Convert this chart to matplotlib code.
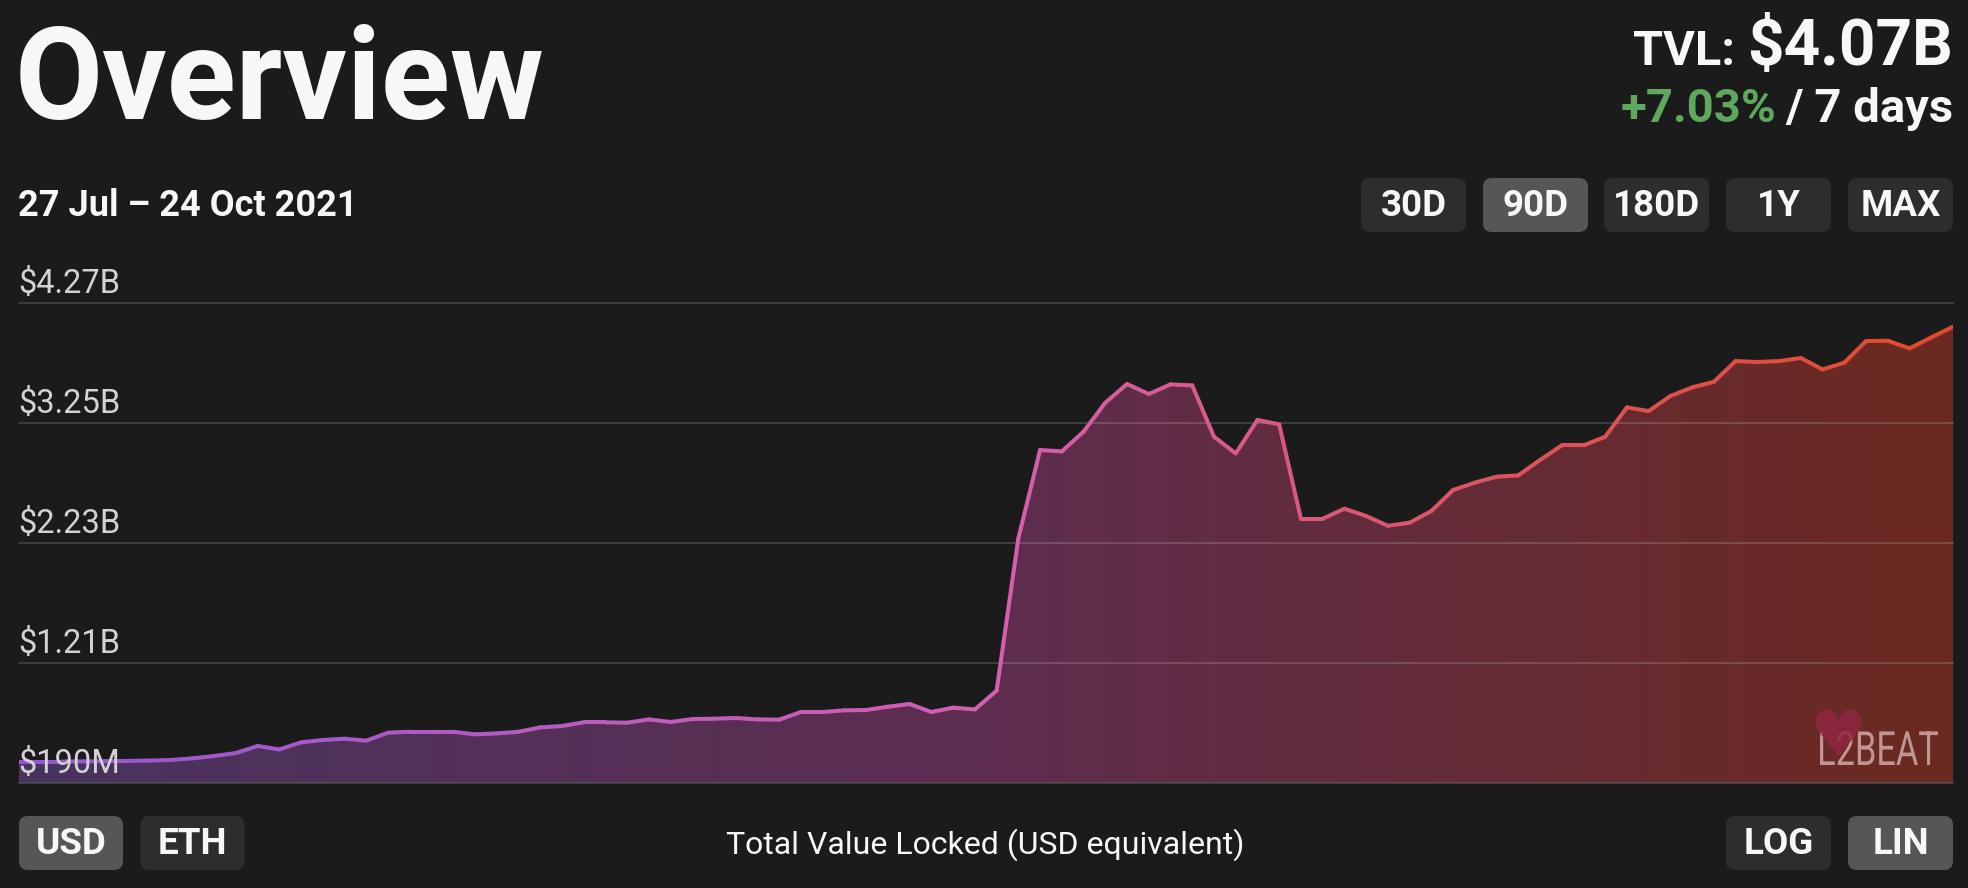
import numpy as np
import matplotlib
matplotlib.use('Agg')
import matplotlib.pyplot as plt
from matplotlib.collections import LineCollection
from matplotlib.colors import LinearSegmentedColormap
from matplotlib.patches import FancyBboxPatch, Polygon, PathPatch
from matplotlib.textpath import TextPath
from matplotlib.font_manager import FontProperties
from matplotlib.transforms import Affine2D

# ---------------- data ----------------
days = list(range(90))  # 27 Jul .. 24 Oct 2021, daily
tvl_b = [0.370, 0.370, 0.370, 0.371, 0.373, 0.375, 0.378, 0.383, 0.397, 0.417,
         0.442, 0.502, 0.473, 0.533, 0.553, 0.564, 0.547, 0.615, 0.623, 0.623,
         0.623, 0.601, 0.609, 0.623, 0.660, 0.672, 0.703, 0.703, 0.700, 0.728,
         0.706, 0.731, 0.734, 0.740, 0.728, 0.726, 0.791, 0.791, 0.805, 0.808,
         0.836, 0.859, 0.791, 0.828, 0.813, 0.972, 2.267, 3.018, 3.006, 3.174,
         3.420, 3.579, 3.494, 3.576, 3.567, 3.131, 2.989, 3.273, 3.236, 2.434,
         2.434, 2.519, 2.457, 2.374, 2.400, 2.499, 2.678, 2.740, 2.791, 2.802,
         2.933, 3.057, 3.057, 3.131, 3.380, 3.349, 3.477, 3.550, 3.598, 3.774,
         3.766, 3.774, 3.800, 3.703, 3.760, 3.944, 3.947, 3.882, 3.975, 4.066]
y_ticks = [0.19, 1.21, 2.23, 3.25, 4.27]
y_tick_labels = ['$190M', '$1.21B', '$2.23B', '$3.25B', '$4.27B']
range_buttons = ['30D', '90D', '180D', '1Y', 'MAX']
active_range = '90D'
currency_buttons = ['USD', 'ETH']
scale_buttons = ['LOG', 'LIN']
title = 'Overview'
date_range = '27 Jul \u2013 24 Oct 2021'
tvl_value = '$4.07B'
tvl_change = '+7.03%'

# ---------------- figure ----------------
W, H = 1968, 888
BG = '#1b1b1b'
plt.rcParams['font.family'] = ['Roboto', 'DejaVu Sans']
fig = plt.figure(figsize=(W / 100, H / 100), dpi=100, facecolor=BG)

# overlay axes in pixel coordinates (y downwards)
ov = fig.add_axes([0, 0, 1, 1], zorder=0)
ov.set_xlim(0, W)
ov.set_ylim(H, 0)
ov.axis('off')
ov.set_facecolor('none')

# chart axes
ax_left, ax_right, ax_top, ax_bottom = 18.5, 1953, 302.7, 782.7
ax = fig.add_axes([ax_left / W, 1 - ax_bottom / H, (ax_right - ax_left) / W,
                   (ax_bottom - ax_top) / H], zorder=2)
ax.set_facecolor('none')
for s in ax.spines.values():
    s.set_visible(False)
ax.set_xticks([])
ax.set_yticks([])

fill_cmap = LinearSegmentedColormap.from_list(
    'fill', [(0, '#48345f'), (0.5, '#5e2d4f'), (1, '#6b2a20')])
line_cmap = LinearSegmentedColormap.from_list(
    'line', [(0, '#9456d2'), (0.5, '#d45fb0'), (0.75, '#db5563'), (1, '#e4492c')])

xmax = days[-1]
grad = np.linspace(0, 1, 512).reshape(1, -1)
im = ax.imshow(grad, cmap=fill_cmap, extent=[0, xmax, y_ticks[0], y_ticks[-1]],
               aspect='auto', origin='lower', zorder=1, interpolation='bilinear')
verts = [(days[0], y_ticks[0])] + list(zip(days, tvl_b)) + [(days[-1], y_ticks[0])]
clip = Polygon(verts, closed=True, transform=ax.transData, facecolor='none', edgecolor='none')
ax.add_patch(clip)
im.set_clip_path(clip)

pts = np.column_stack([days, tvl_b])
segs = np.stack([pts[:-1], pts[1:]], axis=1)
mids = (np.array(days[:-1]) + np.array(days[1:])) / 2 / xmax
lc = LineCollection(segs, colors=line_cmap(mids), linewidths=2.9, zorder=4,
                    capstyle='round', joinstyle='round')
ax.add_collection(lc)

ax.set_xlim(0, xmax)
ax.set_ylim(y_ticks[0], y_ticks[-1])

for v, lab in zip(y_ticks, y_tick_labels):
    ax.axhline(v, color='white', alpha=0.2, lw=1.1, zorder=3, clip_on=False)
    ax.annotate(lab, xy=(0, v), xycoords=('axes fraction', 'data'),
                xytext=(0.0, 7.3), textcoords='offset points', ha='left', va='baseline',
                fontsize=23.5, color='#d3d3d3', zorder=6, annotation_clip=False)

# ---------------- header texts ----------------
WHITE = '#f7f7f7'
ov.text(15, 119, title, fontsize=92, fontweight='bold', color=WHITE, ha='left', va='baseline')
ov.text(18, 216, date_range, fontsize=26, fontweight='bold', color=WHITE, ha='left', va='baseline')

renderer = fig.canvas.get_renderer()
t_big = ov.text(1953, 65, tvl_value, fontsize=46, fontweight='bold', color=WHITE,
                ha='right', va='baseline')
bb = t_big.get_window_extent(renderer)
ov.text(bb.x0 - 12, 65, 'TVL:', fontsize=35, fontweight='bold', color=WHITE,
        ha='right', va='baseline')
t_days = ov.text(1953, 122, '/ 7 days', fontsize=34, fontweight='bold', color=WHITE,
                 ha='right', va='baseline')
bb2 = t_days.get_window_extent(renderer)
ov.text(bb2.x0 - 9, 122, tvl_change, fontsize=34, fontweight='bold', color='#5ea75c',
        ha='right', va='baseline')


def button(x, y, w, h, label, active):
    p = FancyBboxPatch((x, y), w, h, boxstyle='round,pad=0,rounding_size=9',
                       facecolor='#565656' if active else '#2d2d2d', edgecolor='none')
    ov.add_patch(p)
    ov.text(x + w / 2, y + h - 16.5, label, fontsize=26.5, fontweight='bold', color=WHITE,
            ha='center', va='baseline')


range_x = [1361, 1483, 1604, 1726, 1848]
for x, lab in zip(range_x, range_buttons):
    button(x, 178, 105, 54, lab, lab == active_range)

for x, lab, act in zip([19, 140.5], currency_buttons, [True, False]):
    button(x, 816, 104, 54, lab, act)
for x, lab, act in zip([1726, 1848], scale_buttons, [False, True]):
    button(x, 816, 105, 54, lab, act)

ov.text(985, 854, 'Total Value Locked (USD equivalent)', fontsize=23, color=WHITE,
        ha='center', va='baseline')

# ---------------- watermark ----------------
wm = fig.add_axes([0, 0, 1, 1], zorder=5)
wm.set_xlim(0, W)
wm.set_ylim(H, 0)
wm.axis('off')
wm.set_facecolor('none')
wm.text(1838, 738, '\u2665', fontsize=46, color='#8f2640', ha='center', va='center',
        family='DejaVu Sans', alpha=0.85)
tp = TextPath((0, 0), 'L2BEAT', size=52, prop=FontProperties(family='Roboto'))
ext = tp.get_extents()
sx = 118 / ext.width
sy = 34 / ext.height
path = Affine2D().translate(-ext.x0, -ext.y0).scale(sx, -sy).translate(1820, 765).transform_path(tp)
wm.add_patch(PathPatch(path, facecolor='#c9a3a0', edgecolor='none', alpha=0.9))

fig.savefig('out.png', dpi=100, facecolor=BG)
